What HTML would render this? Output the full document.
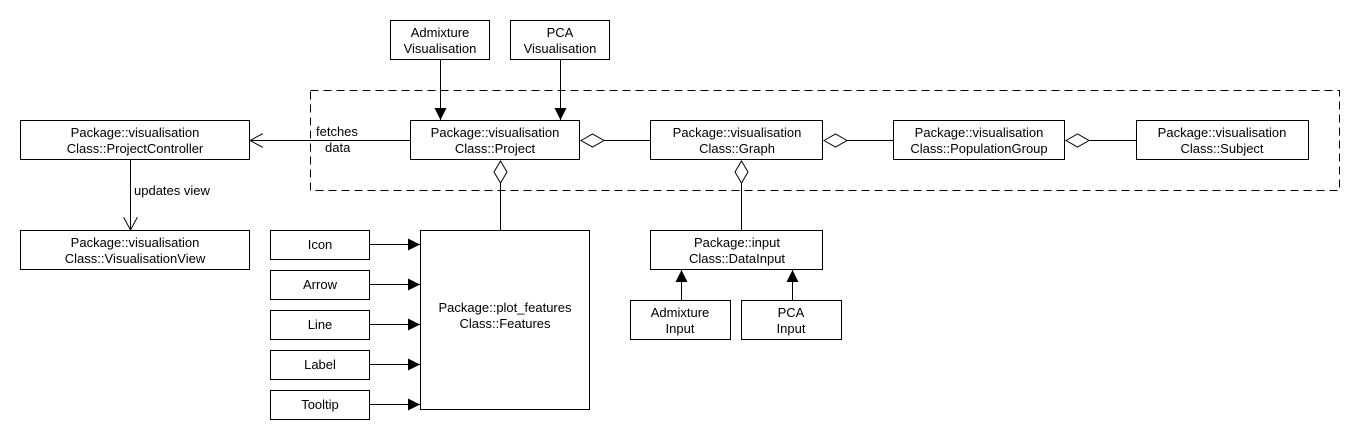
<!DOCTYPE html>
<html><head><meta charset="utf-8"><style>
html,body{margin:0;padding:0;background:#fff;}
svg text{font-family:"Liberation Sans",Arial,sans-serif;font-size:13px;fill:#000;}
</style></head><body>
<svg width="1370" height="440" viewBox="0 0 1370 440" xmlns="http://www.w3.org/2000/svg">
<defs>
<marker id="fill" markerWidth="12" markerHeight="12" refX="12" refY="6" orient="auto" markerUnits="userSpaceOnUse"><path d="M0,0 L12,6 L0,12 z" fill="#000"/></marker>
<marker id="open" markerWidth="14" markerHeight="14" refX="13" refY="7" orient="auto" markerUnits="userSpaceOnUse"><path d="M0,0 L13,7 L0,14" fill="none" stroke="#000"/></marker>
</defs>
<g fill="none" stroke="#000" stroke-width="1">
<rect x="310.5" y="90.5" width="1029" height="100" stroke-dasharray="8,5"/>
<rect x="390.5" y="20.5" width="99" height="39" fill="#fff"/>
<rect x="510.5" y="20.5" width="99" height="39" fill="#fff"/>
<rect x="20.5" y="120.5" width="229" height="39" fill="#fff"/>
<rect x="20.5" y="230.5" width="229" height="39" fill="#fff"/>
<rect x="410.5" y="120.5" width="169" height="39" fill="#fff"/>
<rect x="650.5" y="120.5" width="172" height="39" fill="#fff"/>
<rect x="893.5" y="120.5" width="171" height="39" fill="#fff"/>
<rect x="1136.5" y="120.5" width="172" height="39" fill="#fff"/>
<rect x="650.5" y="230.5" width="172" height="39" fill="#fff"/>
<rect x="630.5" y="300.5" width="100" height="39" fill="#fff"/>
<rect x="741.5" y="300.5" width="100" height="39" fill="#fff"/>
<rect x="420.5" y="230.5" width="169" height="179" fill="#fff"/>
<rect x="270.5" y="230.5" width="99" height="29"/>
<rect x="270.5" y="270.5" width="99" height="29"/>
<rect x="270.5" y="310.5" width="99" height="29"/>
<rect x="270.5" y="350.5" width="99" height="29"/>
<rect x="270.5" y="390.5" width="99" height="29"/>
<line x1="440.5" y1="60" x2="440.5" y2="120" marker-end="url(#fill)"/>
<line x1="560.5" y1="60" x2="560.5" y2="120" marker-end="url(#fill)"/>
<line x1="410" y1="140.5" x2="250" y2="140.5" marker-end="url(#open)"/>
<line x1="130.5" y1="160" x2="130.5" y2="230" marker-end="url(#open)"/>
<line x1="370" y1="244.5" x2="420" y2="244.5" marker-end="url(#fill)"/>
<line x1="370" y1="284.5" x2="420" y2="284.5" marker-end="url(#fill)"/>
<line x1="370" y1="324.5" x2="420" y2="324.5" marker-end="url(#fill)"/>
<line x1="370" y1="364.5" x2="420" y2="364.5" marker-end="url(#fill)"/>
<line x1="370" y1="404.5" x2="420" y2="404.5" marker-end="url(#fill)"/>
<line x1="681.5" y1="300" x2="681.5" y2="270" marker-end="url(#fill)"/>
<line x1="792.5" y1="300" x2="792.5" y2="270" marker-end="url(#fill)"/>
<line x1="604" y1="140.5" x2="650" y2="140.5"/>
<path d="M581,140.5 L592.5,134 L604,140.5 L592.5,147 z" fill="#fff"/>
<line x1="847" y1="140.5" x2="893" y2="140.5"/>
<path d="M824,140.5 L835.5,134 L847,140.5 L835.5,147 z" fill="#fff"/>
<line x1="1089" y1="140.5" x2="1136" y2="140.5"/>
<path d="M1066,140.5 L1077.5,134 L1089,140.5 L1077.5,147 z" fill="#fff"/>
<line x1="500.5" y1="183" x2="500.5" y2="230"/>
<path d="M500.5,161 L507,172 L500.5,183 L494,172 z" fill="#fff"/>
<line x1="741.5" y1="183" x2="741.5" y2="230"/>
<path d="M741.5,161 L748,172 L741.5,183 L735,172 z" fill="#fff"/>
</g>
<g text-anchor="middle">
<text x="440" y="37">Admixture</text><text x="440" y="53">Visualisation</text>
<text x="560" y="37">PCA</text><text x="560" y="53">Visualisation</text>
<text x="135" y="137">Package::visualisation</text><text x="135" y="153">Class::ProjectController</text>
<text x="135" y="247">Package::visualisation</text><text x="135" y="263">Class::VisualisationView</text>
<text x="495" y="137">Package::visualisation</text><text x="495" y="153">Class::Project</text>
<text x="737" y="137">Package::visualisation</text><text x="737" y="153">Class::Graph</text>
<text x="979" y="137">Package::visualisation</text><text x="979" y="153">Class::PopulationGroup</text>
<text x="1222" y="137">Package::visualisation</text><text x="1222" y="153">Class::Subject</text>
<text x="737" y="247">Package::input</text><text x="737" y="263">Class::DataInput</text>
<text x="680" y="317">Admixture</text><text x="680" y="333">Input</text>
<text x="791" y="317">PCA</text><text x="791" y="333">Input</text>
<text x="505" y="312">Package::plot_features</text><text x="505" y="328">Class::Features</text>
<text x="320" y="249">Icon</text>
<text x="320" y="289">Arrow</text>
<text x="320" y="329">Line</text>
<text x="320" y="369">Label</text>
<text x="320" y="409">Tooltip</text>
</g>
<text x="316" y="136">fetches</text>
<text x="325" y="152">data</text>
<text x="134" y="195">updates view</text>
</svg>
</body></html>
